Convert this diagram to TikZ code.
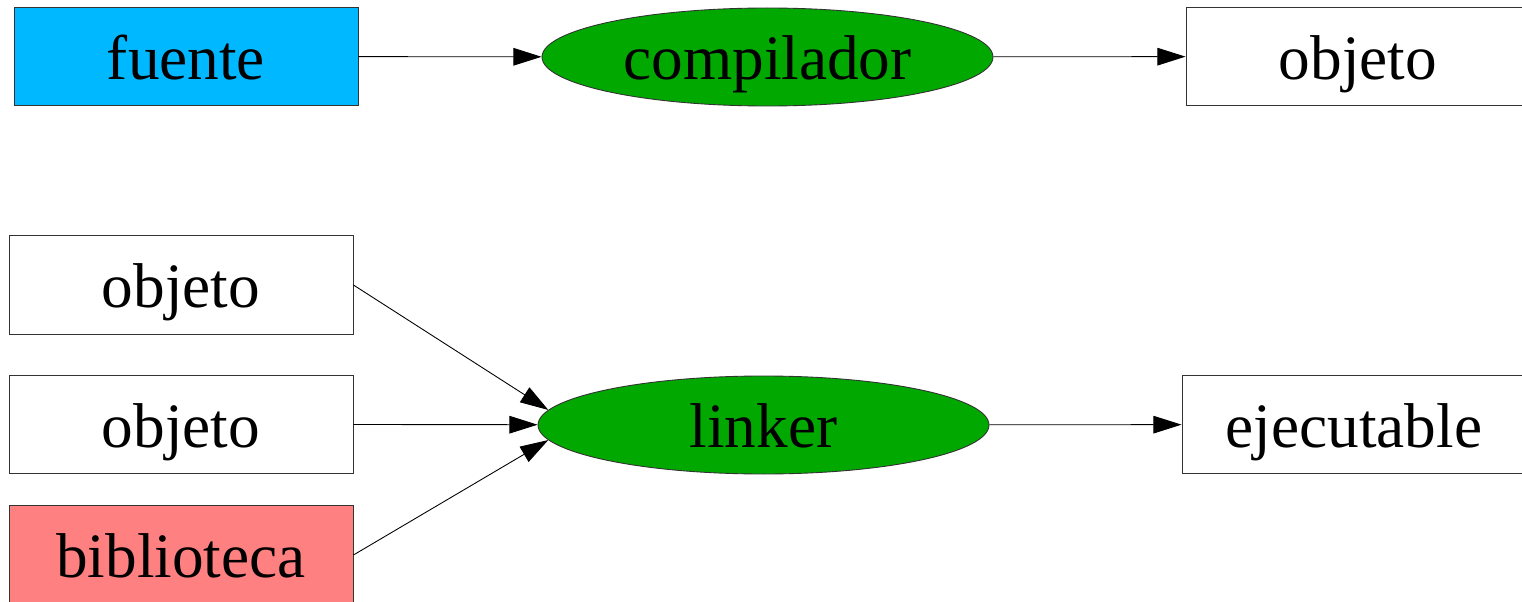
\documentclass[tikz,border=0pt]{standalone}
\usepackage{fontspec}
\setmainfont{Liberation Serif}
\usepackage{xcolor}
\usetikzlibrary{arrows.meta,shapes.geometric}

\definecolor{srcblue}{RGB}{0,184,255}
\definecolor{toolgreen}{RGB}{0,168,0}
\definecolor{libred}{RGB}{255,128,128}

\tikzset{
	filebox/.style={draw=black!80, line width=0.5pt, minimum width=6.88cm, minimum height=1.97cm, inner sep=0pt, text height=30pt, text depth=4pt, font=\fontsize{36}{40}\selectfont},
	toolnode/.style={ellipse, draw=black!80, fill=toolgreen, line width=0.5pt, minimum width=9.02cm, minimum height=1.96cm, inner sep=0pt, text height=30pt, text depth=4pt, font=\fontsize{36}{40}\selectfont},
	flow/.style={-{Triangle[length=16pt,width=10pt]}, line width=0.5pt}
}

\begin{document}
\begin{tikzpicture}
			\useasboundingbox (0,0) rectangle (30.44,-12.04);
			\node[filebox, fill=srcblue](fuente) at (3.72,-1.13) {fuente};
			\node[toolnode](compilador) at (15.35,-1.14) {compilador};
			\node[filebox](objeto) at (27.16,-1.13) {objeto};
			\node[filebox](objA) at (3.62,-5.70) {objeto};
			\node[filebox](objB) at (3.62,-8.49) {objeto};
			\node[filebox, fill=libred](biblioteca) at (3.62,-11.10) {biblioteca};
			\node[toolnode](linker) at (15.27,-8.50) {linker};
			\node[filebox](ejecutable) at (27.08,-8.49) {ejecutable};
			\draw[flow] (fuente) -- (compilador);
			\draw[flow] (compilador) -- (objeto);
			\draw[flow] (objA.east) -- (linker.176);
			\draw[flow] (objB.east) -- (linker);
			\draw[flow] (biblioteca.east) -- (linker.184);
			\draw[flow] (linker) -- (ejecutable);
		\end{tikzpicture}
\end{document}
